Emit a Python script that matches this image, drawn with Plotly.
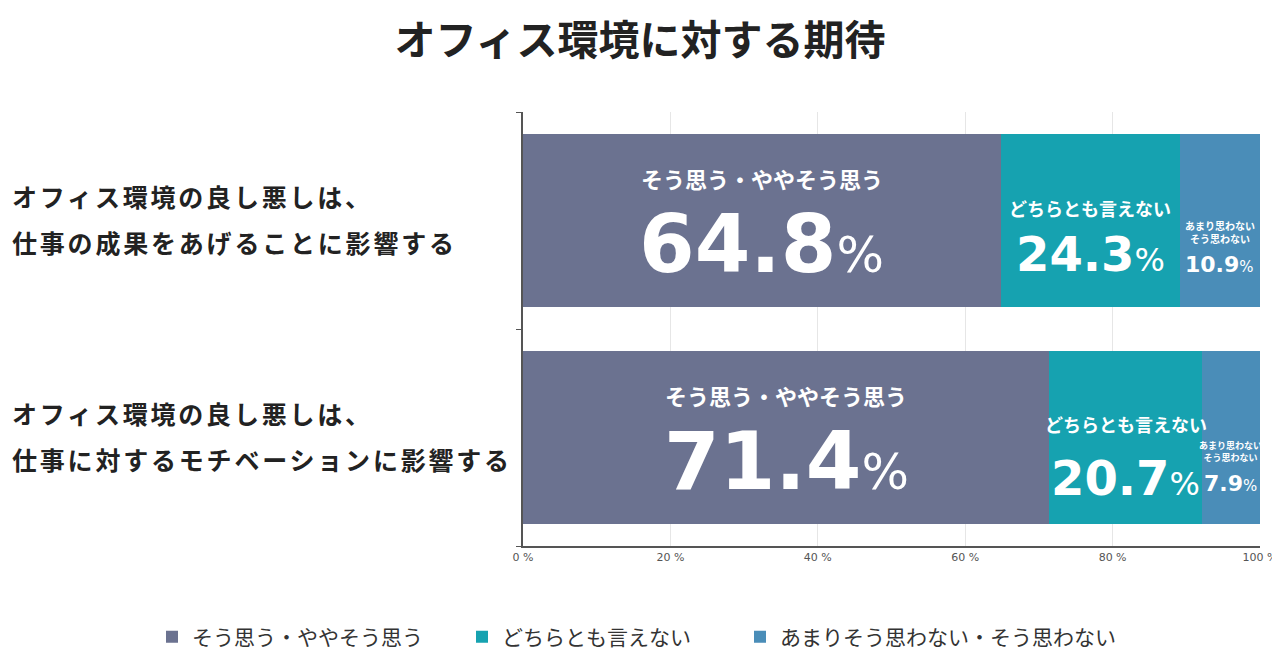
import plotly.graph_objects as go

cat_lines = [["オフィス環境の良し悪しは、", "仕事の成果をあげることに影響する"],
             ["オフィス環境の良し悪しは、", "仕事に対するモチベーションに影響する"]]
series_names = ["そう思う・ややそう思う", "どちらとも言えない", "あまりそう思わない・そう思わない"]
agree = [64.8, 71.4]
neutral = [24.3, 20.7]
disagree = [10.9, 7.9]
x_ticks = [0, 20, 40, 60, 80, 100]
x_tick_labels = ["0 %", "20 %", "40 %", "60 %", "80 %", "100 %"]
seg_labels = ["そう思う・ややそう思う", "どちらとも言えない", "あまり思わない<br>そう思わない"]

colors = ["#6b7290", "#16a2b0", "#4a8db8"]
legend_x_screen = [152, 462, 740]
FONT = "Noto Sans CJK JP"
NUMFONT = "DejaVu Sans"

# page body has an 8px margin, so figure coords = screen coords - 8
OFF = 8
W, H = 1280, 672 - OFF
L = 523 - OFF
T = 112 - OFF
R = W - (1260 - OFF)
B = H - (546 - OFF)
PW, PH = W - L - R, H - T - B

fig = go.Figure()
ycat = [0, 1]
legend_ids = ["legend", "legend2", "legend3"]
for name, vals, col, lid in zip(series_names, [agree, neutral, disagree], colors, legend_ids):
    fig.add_trace(go.Bar(
        y=ycat, x=vals, name=name, orientation="h",
        marker=dict(color=col, line=dict(width=0)),
        width=0.8, hoverinfo="skip", legend=lid))

annotations = []
for i, lines in enumerate(cat_lines):
    for k, line in enumerate(lines):
        annotations.append(dict(
            xref="paper", yref="y", x=(10 - OFF - L) / PW, y=i, yshift=25 - 46 * k,
            xanchor="left", yanchor="middle",
            text="<span style='letter-spacing:2.8px'>" + line + "</span>",
            showarrow=False, align="left",
            font=dict(family=FONT, size=25, color="#222222", weight=700)))

# (label size, number size, pct size, label yshift, number yshift)
styles = [
    [(22, 80, 50, 43, -24), (18, 48, 32, 13, -33), (10, 22, 15, -11, -44)],
    [(22, 80, 50, 43, -24), (18, 48, 32, 14, -40), (9, 22, 15, -14, -46)],
]
for i in range(2):
    segs = [agree[i], neutral[i], disagree[i]]
    start = 0
    for j, v in enumerate(segs):
        cx = start + v / 2
        start += v
        ls, ns, ps, ly, ny = styles[i][j]
        annotations.append(dict(
            xref="x", yref="y", x=cx, y=i, yshift=ly, showarrow=False,
            text=seg_labels[j], align="center",
            font=dict(family=FONT, size=ls, color="white", weight=700)))
        annotations.append(dict(
            xref="x", yref="y", x=cx, y=i, yshift=ny, showarrow=False,
            text=f"<b>{v:.1f}</b><span style='font-size:{ps}px'>%</span>",
            font=dict(family=NUMFONT, size=ns, color="white")))

def legend_cfg(xs):
    return dict(orientation="h", xref="paper", x=(xs - OFF - L) / PW, xanchor="left",
                yref="paper", y=-(637 - 546) / PH, yanchor="middle",
                font=dict(family=FONT, size=21, color="#333333"),
                itemwidth=30, bgcolor="rgba(0,0,0,0)")

fig.update_layout(
    width=W, height=H,
    margin=dict(l=L, r=R, t=T, b=B, autoexpand=False),
    paper_bgcolor="white", plot_bgcolor="white",
    barmode="stack", bargap=0.2,
    title=dict(text="オフィス環境に対する期待", x=(640 - OFF) / W, xanchor="center",
               y=1 - (41 - OFF) / H, yanchor="middle",
               font=dict(family=FONT, size=41, color="#222222", weight=700)),
    font=dict(family=FONT),
    xaxis=dict(range=[0, 100], tickvals=x_ticks, ticktext=x_tick_labels,
               showgrid=True, gridcolor="#e6e6e6", gridwidth=1,
               showline=True, linecolor="#555555", linewidth=1.5,
               ticks="", tickfont=dict(family=NUMFONT, size=11, color="#555555"),
               ticklabeloverflow="allow",
               zeroline=False, fixedrange=True),
    yaxis=dict(range=[1.5, -0.5], tickvals=[-0.5, 0.5, 1.5], ticktext=["", "", ""],
               showline=True, linecolor="#555555", linewidth=1.5,
               ticks="outside", ticklen=5, tickcolor="#555555",
               showgrid=False, zeroline=False),
    legend=legend_cfg(legend_x_screen[0]),
    legend2=legend_cfg(legend_x_screen[1]),
    legend3=legend_cfg(legend_x_screen[2]),
    annotations=annotations,
    showlegend=True,
)

fig.write_html("out.html")
